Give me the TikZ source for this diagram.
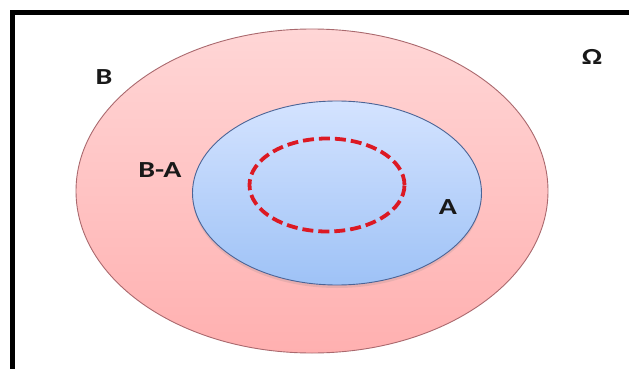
\documentclass[tikz,border=0pt]{standalone}
\usepackage{fontspec}
\setmainfont{Carlito}
\usetikzlibrary{shapes.geometric,shadows}
\definecolor{pinkA}{RGB}{255,214,214}
\definecolor{pinkB}{RGB}{255,176,176}
\definecolor{pinkLine}{RGB}{170,105,110}
\definecolor{blueA}{RGB}{212,227,255}
\definecolor{blueB}{RGB}{158,194,246}
\definecolor{blueLine}{RGB}{75,100,150}
\definecolor{dashRed}{RGB}{220,25,35}
\tikzset{
  setB/.style={ellipse, draw=pinkLine, line width=0.9pt, top color=pinkA, bottom color=pinkB, inner sep=0pt},
  setA/.style={ellipse, draw=blueLine, line width=0.9pt, top color=blueA, bottom color=blueB, inner sep=0pt,
    drop shadow={opacity=0.18, shadow xshift=0pt, shadow yshift=-3pt}},
  subset/.style={ellipse, draw=dashRed, line width=3.8pt, dash pattern=on 11pt off 5pt, inner sep=0pt},
  lab/.style={font=\fontsize{23}{26}\selectfont\bfseries, text=black!90, inner sep=0pt},
  frameline/.style={line width=5pt, black, line join=miter}
}
\newcommand{\wide}[1]{\scalebox{1.3}[1]{#1}}
\begin{document}
\begin{tikzpicture}[x=1pt,y=-1pt]
\useasboundingbox (0,0) rectangle (629,369);
\fill[white] (0,0) rectangle (629,369);
\coordinate (fBL) at (12,375);
\coordinate (fTL) at (12,13);
\coordinate (fTR) at (635,13);
\draw[frameline] (fBL) -- (fTL) -- (fTR);
\node[setB, minimum width=472pt, minimum height=324pt] (B) at (312,191) {};
\node[setA, minimum width=289pt, minimum height=184pt] (A) at (337,193) {};
\node[subset, minimum width=155pt, minimum height=93pt] (S) at (327,185) {};
\node[lab] (lB) at (104,77) {\wide{B}};
\node[lab] (lBA) at (160,170) {\wide{B-A}};
\node[lab] (lA) at (448,207) {\wide{A}};
\node[lab] (lO) at (592,57) {\wide{Ω}};
\end{tikzpicture}
\end{document}
